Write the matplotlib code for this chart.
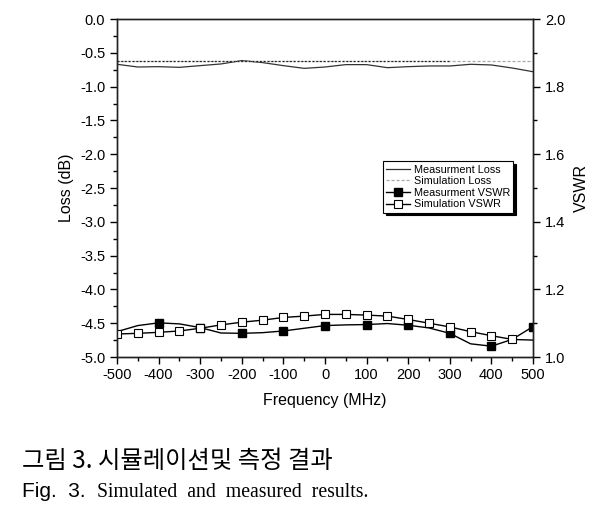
import matplotlib
matplotlib.use("Agg")
import matplotlib.pyplot as plt
from matplotlib.ticker import MultipleLocator, FormatStrFormatter

plt.rcParams["font.family"] = ["Liberation Sans", "DejaVu Sans"]
plt.rcParams["axes.unicode_minus"] = False

# ---------------- data ----------------
freq = [-500, -450, -400, -350, -300, -250, -200, -150, -100, -50, 0,
        50, 100, 150, 200, 250, 300, 350, 400, 450, 500]

meas_loss = [-0.67, -0.71, -0.705, -0.715, -0.69, -0.665, -0.615, -0.645, -0.69, -0.73, -0.71,
             -0.675, -0.675, -0.72, -0.705, -0.695, -0.695, -0.67, -0.68, -0.725, -0.78]
sim_loss = [-0.625, -0.625, -0.625, -0.625, -0.625, -0.625, -0.625, -0.625, -0.625, -0.625, -0.625,
            -0.625, -0.625, -0.625, -0.625, -0.625, -0.625, -0.625, -0.625, -0.625, -0.625]

meas_vswr = [1.075, 1.093, 1.101, 1.098, 1.087, 1.071, 1.070, 1.072, 1.077, 1.085, 1.093,
             1.095, 1.096, 1.099, 1.094, 1.086, 1.070, 1.039, 1.032, 1.052, 1.090]
sim_vswr = [1.068, 1.070, 1.073, 1.077, 1.085, 1.095, 1.103, 1.109, 1.117, 1.121, 1.126,
            1.126, 1.124, 1.121, 1.111, 1.100, 1.089, 1.075, 1.063, 1.052, 1.050]

labels = ["Measurment Loss", "Simulation Loss", "Measurment VSWR", "Simulation VSWR"]
caption_kr = "그림 3. 시뮬레이션및 측정 결과"
caption_fig = "Fig.  3."
caption_en = "Simulated  and  measured  results."

# ---------------- figure ----------------
W, H = 603, 511
fig = plt.figure(figsize=(W / 100, H / 100), dpi=100)
ax = fig.add_axes([117 / W, 1 - 357 / H, (533 - 117) / W, (357 - 19) / H])
ax2 = ax.twinx()

l1, = ax.plot(freq, meas_loss, color="#333333", lw=0.9, label=labels[0])
l2, = ax.plot(freq, sim_loss, color="#aaaaaa", lw=0.9, ls=(0, (2.5, 1.5)), label=labels[1])
ax.plot(freq[:17], sim_loss[:17], color="#222222", lw=0.9, ls=(0, (1.5, 1.5)))

l3, = ax2.plot(freq, meas_vswr, color="black", lw=1.0, marker="s", ms=6,
               mfc="black", mec="black", markevery=list(range(2, 21, 2)), label=labels[2])
l4, = ax2.plot(freq, sim_vswr, color="black", lw=1.0, marker="s", ms=6,
               mfc="white", mec="black", mew=0.8, markevery=list(range(0, 20)), label=labels[3])

ax.set_xlim(-500, 500)
ax.set_ylim(-5.0, 0.0)
ax2.set_ylim(1.0, 2.0)

ax.xaxis.set_major_locator(MultipleLocator(100))
ax.xaxis.set_minor_locator(MultipleLocator(50))
ax.yaxis.set_major_locator(MultipleLocator(0.5))
ax.yaxis.set_minor_locator(MultipleLocator(0.25))
ax.yaxis.set_major_formatter(FormatStrFormatter("%.1f"))
ax2.yaxis.set_major_locator(MultipleLocator(0.2))
ax2.yaxis.set_minor_locator(MultipleLocator(0.1))
ax2.yaxis.set_major_formatter(FormatStrFormatter("%.1f"))

for a in (ax, ax2):
    a.tick_params(which="major", direction="out", length=5, width=1, labelsize=10.5, colors="black")
    a.tick_params(which="minor", direction="out", length=3, width=1)
    for s in a.spines.values():
        s.set_linewidth(1.0)
        s.set_color("#222222")
ax.tick_params(axis="x", pad=3)
ax.set_xlabel("Frequency (MHz)", fontsize=11.5, labelpad=8)
ax.set_ylabel("Loss (dB)", fontsize=11.5, labelpad=4)
ax2.set_ylabel("VSWR", fontsize=11.5, labelpad=6)

leg = ax.legend(handles=[l1, l2, l3, l4], loc="upper right", bbox_to_anchor=(0.965, 0.595),
                fontsize=7.8, frameon=True, fancybox=False, borderpad=0.3,
                labelspacing=0.15, handlelength=2.2, handletextpad=0.3,
                shadow={"facecolor": "black", "edgecolor": "black", "alpha": 1})
leg.get_frame().set_edgecolor("black")
leg.get_frame().set_linewidth(0.8)
leg.set_zorder(10)

# captions
fig.text(22 / W, 1 - 468 / H, caption_kr, fontsize=17.5, fontweight="light",
         family=["Noto Sans CJK KR", "DejaVu Sans"], va="baseline", ha="left")
fig.text(22 / W, 1 - 497 / H, caption_fig, fontsize=15,
         family=["Liberation Sans Narrow", "Liberation Sans"], va="baseline", ha="left")
fig.text(97 / W, 1 - 497 / H, caption_en, fontsize=14.2,
         family=["Liberation Serif"], va="baseline", ha="left")

fig.savefig("out.png", dpi=100)
